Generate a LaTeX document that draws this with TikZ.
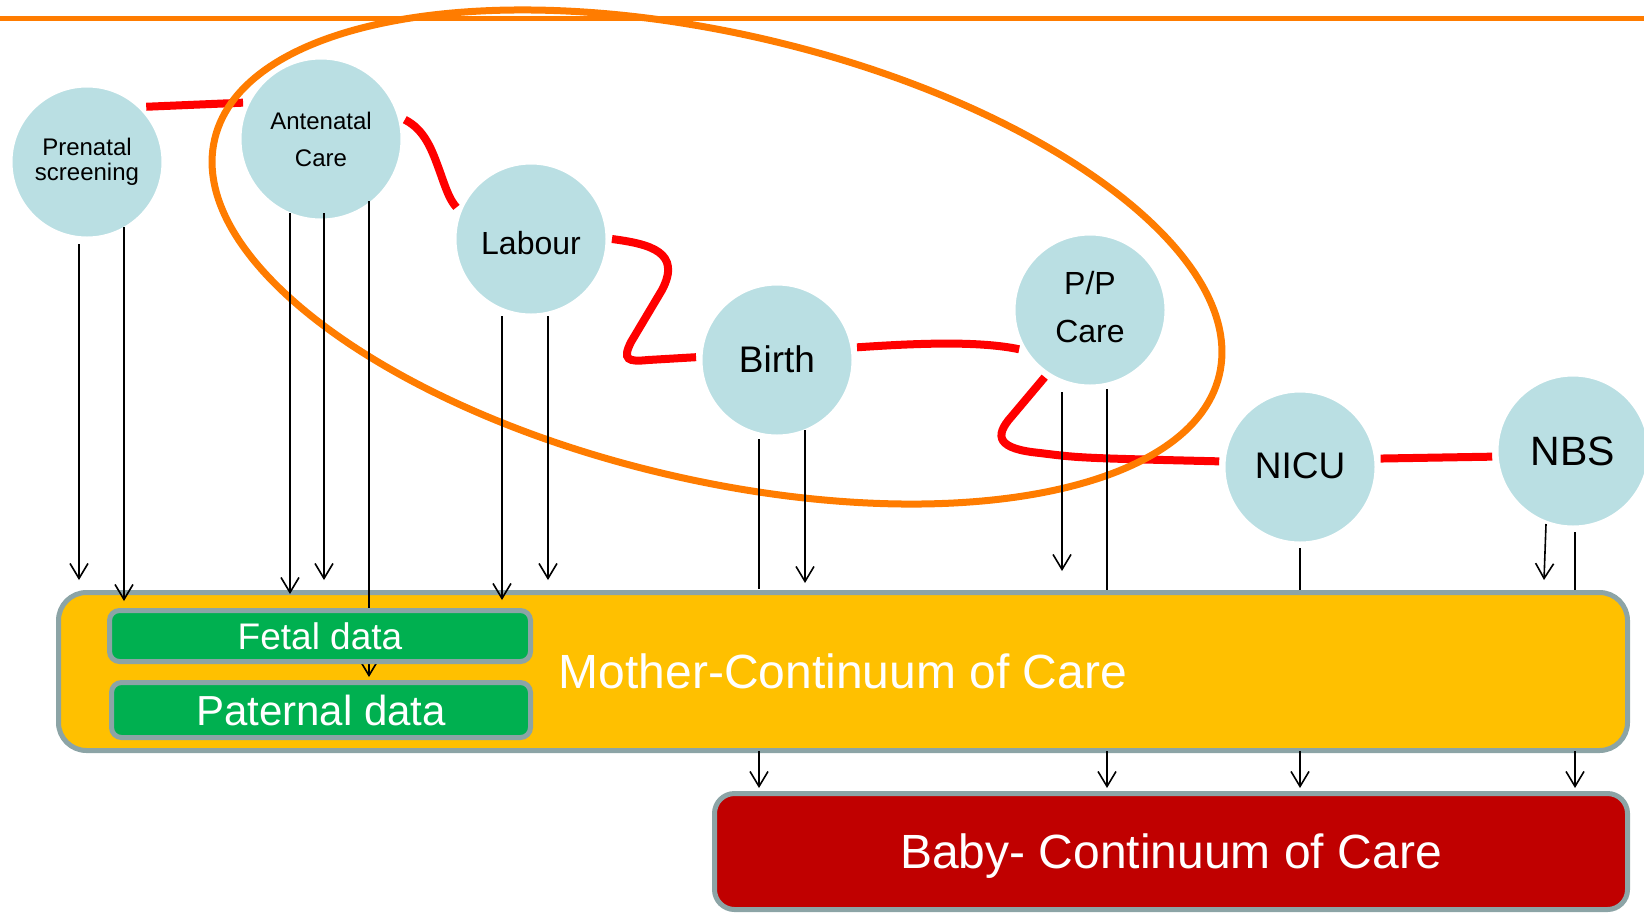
\documentclass[tikz,border=0pt]{standalone}
\usepackage{fontspec}
\setmainfont{Liberation Sans}
\usetikzlibrary{arrows.meta,calc}
\definecolor{circfill}{RGB}{186,223,227}
\definecolor{oline}{RGB}{255,124,0}
\definecolor{rline}{RGB}{255,0,0}
\definecolor{gborder}{RGB}{140,164,166}
\definecolor{yfill}{RGB}{255,192,0}
\definecolor{gfill}{RGB}{0,176,80}
\definecolor{bfill}{RGB}{192,0,0}
\pgfdeclarelayer{bg}
\pgfsetlayers{bg,main}
\begin{document}
\begin{tikzpicture}[x=1pt,y=-1pt,
 stage/.style={circle, fill=circfill, draw=white, line width=3pt, minimum size=152pt, inner sep=0pt, outer sep=5pt, align=center, text=black},
 redl/.style={draw=rline, line width=8pt},
 arr/.style={line width=1.6pt, -{Straight Barb[length=15pt,width=18pt]}},
 plainl/.style={line width=1.6pt},
 bigbox/.style={rectangle, draw=gborder, line width=5pt, text=white, inner sep=0pt},
]
\path[use as bounding box] (0,0) rectangle (1644,914);
\clip (0,0) rectangle (1644,914);

% stages
\node[stage, font=\fontsize{24}{25}\selectfont] (pre) at (87,162) {Prenatal\\screening};
\node[stage, minimum size=162pt, font=\fontsize{24}{37}\selectfont] (ant) at (321,139) {Antenatal\\Care};
\node[stage, text height=31pt, font=\fontsize{32}{38}\selectfont] (lab) at (531,239) {Labour};
\node[stage, text depth=2pt, font=\fontsize{37}{44}\selectfont] (bir) at (777,360) {Birth};
\node[stage, text depth=6pt, font=\fontsize{32}{48}\selectfont] (pp) at (1090,310) {P/P\\Care};
\node[stage, text depth=2pt, font=\fontsize{37}{44}\selectfont] (nic) at (1300,467) {NICU};
\node[stage, font=\fontsize{41}{48}\selectfont] (nbs) at (1573,451) {NBS};

\begin{pgfonlayer}{bg}
\draw[oline, line width=5pt] (0,18) -- (1644,18);
\draw[redl] (pre.43) -- (ant.155);
\draw[redl] (ant.13) .. controls (425,130) and (432,150) .. (440,172)
   .. controls (447,192) and (450,200) .. (lab.157);
\draw[redl] (lab.0) .. controls (650,244) and (682,252) .. (662,290)
   -- (631,342) .. controls (622,360) and (628,362) .. (648,360) -- (bir.178);
\draw[redl] (bir.9) .. controls (920,343) and (980,341) .. (pp.209);
\draw[redl] (pp.236) -- (1012,416) .. controls (993,437) and (998,449) .. (1040,453)
   .. controls (1080,458) .. (nic.176);
\draw[redl] (nic.6) -- (nbs.184);
\end{pgfonlayer}

% highlight ellipse
\draw[oline, line width=7pt, rotate around={-13.2:(717,257)}] (717,257) ellipse [x radius=516, y radius=223];

% boxes
\node[bigbox, fill=yfill, rounded corners=28pt, minimum width=1569pt, minimum height=158pt,
  font=\fontsize{48}{56}\selectfont] (mom) at (843,671.5) {Mother-Continuum of Care};
\node[bigbox, fill=bfill, rounded corners=20pt, minimum width=913pt, minimum height=116pt,
  text depth=0pt, font=\fontsize{48}{56}\selectfont] (baby) at (1171,851.5) {Baby- Continuum of Care};

% data flows
\draw[arr] ([shift={(-8,82)}]pre.center) -- ++(0,336);
\draw[arr] ([shift={(37,65)}]pre.center) -- ++(0,374);
\draw[arr] ([shift={(-31,74)}]ant.center) -- ++(0,381);
\draw[arr] ([shift={(3,74)}]ant.center) -- ++(0,367);
\draw[arr] ([shift={(48,62)}]ant.center) -- ++(0,476);
\draw[arr] ([shift={(-29,77)}]lab.center) -- ++(0,284);
\draw[arr] ([shift={(17,77)}]lab.center) -- ++(0,264);
\draw[plainl] ([shift={(-18,79)}]bir.center) -- ++(0,150);
\draw[arr] ([shift={(28,70)}]bir.center) -- ++(0,153);
\draw[arr] ([shift={(-28,82)}]pp.center) -- ++(0,179);
\draw[plainl] ([shift={(17,79)}]pp.center) -- ++(0,201);
\draw[plainl] ([shift={(0,81)}]nic.center) -- ++(0,42);
\draw[arr] ([shift={(-27,73)}]nbs.center) -- ++(-2,56);
\draw[plainl] ([shift={(2,81)}]nbs.center) -- ++(0,58);

\foreach \xx in {759,1107,1300,1575}{
  \draw[arr, shorten >=3pt] ([yshift=2pt]mom.south -| \xx,0) -- (baby.north -| \xx,0);
}

\node[bigbox, fill=gfill, rounded corners=10pt, minimum width=421pt, minimum height=51pt,
  font=\fontsize{37}{40}\selectfont] (fet) at (320,636) {Fetal data};
\node[bigbox, fill=gfill, rounded corners=10pt, minimum width=419pt, minimum height=55pt,
  font=\fontsize{42}{46}\selectfont] (pat) at (321,710) {Paternal data};
\end{tikzpicture}
\end{document}
